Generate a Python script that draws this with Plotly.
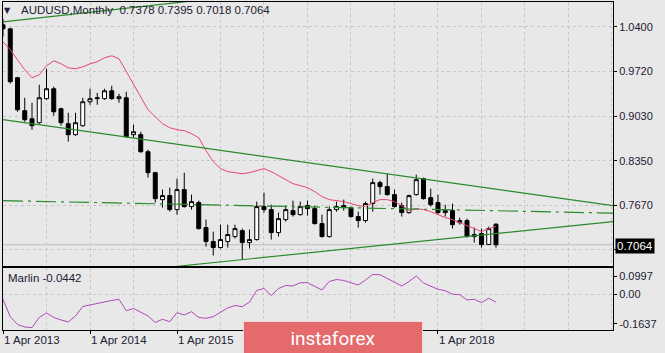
import plotly.graph_objects as go
import pandas as pd

# ---------------- data ----------------
months = pd.date_range("2013-04-01", periods=69, freq="MS")
x_idx = list(range(len(months)))

open_ = [1.0430, 1.0369, 0.9620, 0.9116, 0.8993, 0.8932, 0.9300, 0.9452, 0.9146, 0.8917,
         0.8749, 0.8886, 0.9253, 0.9300, 0.9300, 0.9421, 0.9300, 0.9314, 0.8749, 0.8749,
         0.8488, 0.8167, 0.7755, 0.7816, 0.7602, 0.7908, 0.7648, 0.7709, 0.7327, 0.7113,
         0.7021, 0.7113, 0.7189, 0.7280, 0.7097, 0.7143, 0.7648, 0.7602, 0.7250, 0.7449,
         0.7587, 0.7525, 0.7663, 0.7617, 0.7388, 0.7189, 0.7602, 0.7663, 0.7633, 0.7495,
         0.7434, 0.7694, 0.8015, 0.7954, 0.7831, 0.7663, 0.7556, 0.7831, 0.8076, 0.7785,
         0.7709, 0.7556, 0.7587, 0.7403, 0.7434, 0.7189, 0.7235, 0.7067, 0.7378]
high = [1.0520, 1.0385, 0.9635, 0.9314, 0.9238, 0.9513, 0.9758, 0.9483, 0.9162, 0.9085,
        0.9085, 0.9314, 0.9452, 0.9390, 0.9452, 0.9498, 0.9376, 0.9406, 0.8900, 0.8794,
        0.8519, 0.8180, 0.7908, 0.7938, 0.8076, 0.8167, 0.7831, 0.7740, 0.7449, 0.7265,
        0.7372, 0.7372, 0.7372, 0.7311, 0.7296, 0.7724, 0.7862, 0.7678, 0.7556, 0.7663,
        0.7740, 0.7724, 0.7740, 0.7663, 0.7525, 0.7648, 0.7724, 0.7755, 0.7648, 0.7571,
        0.7724, 0.8076, 0.8045, 0.8152, 0.7908, 0.7709, 0.7831, 0.8137, 0.8091, 0.7923,
        0.7831, 0.7678, 0.7694, 0.7479, 0.7464, 0.7327, 0.7311, 0.7342, 0.7395]
low = [1.0250, 0.9530, 0.9100, 0.8947, 0.8825, 0.8917, 0.9284, 0.9039, 0.8886, 0.8642,
       0.8733, 0.8870, 0.9207, 0.9207, 0.9284, 0.9284, 0.9238, 0.8703, 0.8703, 0.8473,
       0.8091, 0.7709, 0.7633, 0.7571, 0.7525, 0.7633, 0.7602, 0.7296, 0.7036, 0.6899,
       0.7006, 0.7021, 0.7159, 0.6837, 0.7006, 0.7128, 0.7556, 0.7143, 0.7189, 0.7418,
       0.7495, 0.7510, 0.7510, 0.7372, 0.7174, 0.7174, 0.7571, 0.7587, 0.7479, 0.7327,
       0.7403, 0.7571, 0.7831, 0.7816, 0.7633, 0.7495, 0.7540, 0.7816, 0.7755, 0.7648,
       0.7525, 0.7495, 0.7311, 0.7372, 0.7174, 0.7097, 0.7021, 0.7060, 0.7018]
close = [1.0370, 0.9560, 0.9130, 0.8978, 0.8886, 0.9314, 0.9452, 0.9100, 0.8932, 0.8749,
         0.8932, 0.9253, 0.9300, 0.9314, 0.9421, 0.9300, 0.9330, 0.8718, 0.8794, 0.8488,
         0.8167, 0.7770, 0.7816, 0.7602, 0.7908, 0.7648, 0.7724, 0.7311, 0.7113, 0.7021,
         0.7143, 0.7220, 0.7311, 0.7097, 0.7143, 0.7648, 0.7602, 0.7250, 0.7464, 0.7602,
         0.7525, 0.7648, 0.7617, 0.7388, 0.7189, 0.7602, 0.7648, 0.7633, 0.7495, 0.7434,
         0.7694, 0.8015, 0.7954, 0.7831, 0.7648, 0.7556, 0.7816, 0.8060, 0.7770, 0.7678,
         0.7556, 0.7587, 0.7372, 0.7434, 0.7189, 0.7220, 0.7067, 0.7311, 0.7064]

ma_line = [1.0171, 1.0048, 0.9895, 0.9743, 0.9620, 0.9666, 0.9804, 0.9880, 0.9834, 0.9773,
           0.9758, 0.9788, 0.9834, 0.9865, 0.9926, 0.9957, 0.9911, 0.9712, 0.9528, 0.9314,
           0.9131, 0.9024, 0.8917, 0.8856, 0.8825, 0.8810, 0.8764, 0.8703, 0.8504, 0.8336,
           0.8229, 0.8183, 0.8168, 0.8152, 0.8168, 0.8198, 0.8229, 0.8183, 0.8122, 0.8061,
           0.7999, 0.7969, 0.7938, 0.7877, 0.7801, 0.7755, 0.7740, 0.7724, 0.7694, 0.7663,
           0.7648, 0.7709, 0.7755, 0.7755, 0.7724, 0.7663, 0.7587, 0.7617, 0.7602, 0.7571,
           0.7525, 0.7480, 0.7449, 0.7403, 0.7357, 0.7311, 0.7266, 0.7311, 0.7342]

marlin = [-0.0280, -0.1236, -0.1665, -0.1802, -0.1841, -0.1280, -0.1033, -0.1280, -0.1418, -0.1527,
          -0.1198, -0.0676, -0.0593, -0.0511, -0.0401, -0.0346, -0.0280, -0.0907, -0.0786, -0.0978,
          -0.1198, -0.1555, -0.1379, -0.1511, -0.1016, -0.1143, -0.0962, -0.1280, -0.1324, -0.1236,
          -0.0978, -0.0758, -0.0621, -0.0687, -0.0429, 0.0203, 0.0313, -0.0071, 0.0313, 0.0478,
          0.0451, 0.0632, 0.0632, 0.0423, 0.0231, 0.0698, 0.0808, 0.0753, 0.0643, 0.0505,
          0.0780, 0.1082, 0.1071, 0.0863, 0.0654, 0.0451, 0.0698, 0.1000, 0.0615, 0.0423,
          0.0269, 0.0192, 0.0000, -0.0027, -0.0319, -0.0280, -0.0467, -0.0225, -0.0442]

# trend lines: (month index, price) anchor points
upper_channel_x, upper_channel_y = [0, 30], [1.0476, 1.0844]
down_trend_x, down_trend_y = [0, 84.14], [0.8978, 0.7663]
mid_level_x, mid_level_y = [0, 84.14], [0.7739, 0.7548]
up_trend_x, up_trend_y = [20, 84.14], [0.6688, 0.7418]

price_ticks = [0.6990, 0.7670, 0.8350, 0.9030, 0.9720, 1.0400]
marlin_ticks = [-0.1637, 0.0, 0.0997]
marlin_tick_text = ["-0.1637", "0.00", "0.0997"]
date_tick_idx = [0, 12, 24, 36, 48, 60]
date_tick_text = ["1 Apr 2013", "1 Apr 2014", "1 Apr 2015", "1 Apr 2016", "1 Apr 2017", "1 Apr 2018"]
# labels 2016 / 2017 sit under the watermark in the reference
date_label_visible = [True, True, True, False, False, True]

# ---------------- styles ----------------
BG = "#e8e8e8"
GRID = "#c6c6c6"
TXT = "#202032"
FONT = "Liberation Sans, Arial, sans-serif"
XR = [0, 84.14]

fig = go.Figure()

fig.add_trace(go.Candlestick(
    x=x_idx, open=open_, high=high, low=low, close=close,
    increasing=dict(line=dict(color="#000000", width=1), fillcolor="#ffffff"),
    decreasing=dict(line=dict(color="#000000", width=1), fillcolor="#000000"),
    xaxis="x", yaxis="y", hoverinfo="skip"))

fig.add_trace(go.Scatter(x=x_idx, y=ma_line, mode="lines",
                         line=dict(color="#e8466e", width=1), xaxis="x", yaxis="y", hoverinfo="skip"))

for tx, ty, dash in [(upper_channel_x, upper_channel_y, "solid"),
                     (down_trend_x, down_trend_y, "solid"),
                     (up_trend_x, up_trend_y, "solid"),
                     (mid_level_x, mid_level_y, "20px,5px,3px,5px")]:
    fig.add_trace(go.Scatter(x=tx, y=ty, mode="lines",
                             line=dict(color="#2a8a2a", width=1.2, dash=dash),
                             xaxis="x", yaxis="y", hoverinfo="skip"))

fig.add_trace(go.Scatter(x=x_idx, y=marlin, mode="lines",
                         line=dict(color="#b048b8", width=1), xaxis="x2", yaxis="y2", hoverinfo="skip"))

# ask line
fig.add_shape(type="line", xref="x domain", x0=0, x1=1, yref="y", y0=close[-1], y1=close[-1],
              line=dict(color="#bdbdbd", width=1), layer="below")

axis_common = dict(showline=True, mirror=True, linecolor="#000000", linewidth=1,
                   zeroline=False, tickfont=dict(family=FONT, size=11, color=TXT))

grid6 = [i for i in range(0, 85, 6)]
fig.update_layout(
    width=665, height=353, margin=dict(l=3, r=52, t=2, b=23),
    paper_bgcolor=BG, plot_bgcolor=BG, showlegend=False, hovermode=False,
    boxgap=0.45, boxgroupgap=0,
    xaxis=dict(domain=[0, 1], range=XR, anchor="y", showticklabels=False, ticks="",
               tickmode="array", tickvals=grid6, showgrid=True, gridcolor=GRID, griddash="3px,3px",
               rangeslider=dict(visible=False), **axis_common),
    yaxis=dict(domain=[0.1936, 1], range=[0.6731, 1.078], side="right", anchor="x",
               tickmode="array", tickvals=price_ticks, ticktext=[f"{v:.4f}" for v in price_ticks],
               ticks="outside", ticklen=3, tickcolor="#000000",
               showgrid=True, gridcolor=GRID, griddash="3px,3px", **axis_common),
    xaxis2=dict(domain=[0, 1], range=XR, anchor="y2", showticklabels=False,
                tickmode="array", tickvals=date_tick_idx, ticks="outside", ticklen=3, tickcolor="#000000",
                showgrid=False,
                minor=dict(tickmode="array", tickvals=grid6, showgrid=True, gridcolor=GRID,
                           griddash="3px,3px", ticks=""),
                **axis_common),
    yaxis2=dict(domain=[0, 0.189], range=[-0.197, 0.144], side="right", anchor="x2",
                tickmode="array", tickvals=marlin_ticks, ticktext=marlin_tick_text,
                ticks="outside", ticklen=3, tickcolor="#000000", showgrid=False,
                minor=dict(tickmode="array", tickvals=[0.0], showgrid=True, gridcolor=GRID,
                           griddash="3px,3px", ticks=""),
                **axis_common),
)

annotations = []
# title
annotations.append(dict(xref="paper", yref="paper", x=(7 - 3) / 610, y=(330 - 10) / 328,
                        text="\u25BC", showarrow=False, xanchor="center", yanchor="middle",
                        font=dict(family="DejaVu Sans", size=8, color=TXT)))
title_txt = (f"AUDUSD,Monthly\u00a0\u00a0{open_[-1]:.4f} {high[-1]:.4f} "
             f"{low[-1]:.4f} {close[-1]:.4f}")
annotations.append(dict(xref="paper", yref="paper", x=(19 - 3) / 610, y=(330 - 10) / 328,
                        text=title_txt, showarrow=False, xanchor="left", yanchor="middle",
                        font=dict(family=FONT, size=11.5, color=TXT)))
# marlin label
annotations.append(dict(xref="paper", yref="paper", x=(6 - 3) / 610, y=(330 - 278) / 328,
                        text=f"Marlin {marlin[-1]:.4f}", showarrow=False, xanchor="left",
                        yanchor="middle", font=dict(family=FONT, size=11.5, color=TXT)))
# current price box
annotations.append(dict(xref="paper", yref="y", x=1, y=close[-1], xanchor="left", yanchor="middle",
                        xshift=2, yshift=-1, text=f"{close[-1]:.4f}", showarrow=False,
                        bgcolor="#000000", borderpad=1,
                        font=dict(family=FONT, size=11.5, color="#ffffff")))
# date labels
for xi, t, vis in zip(date_tick_idx, date_tick_text, date_label_visible):
    if not vis:
        continue
    annotations.append(dict(xref="x2", yref="paper", x=xi, y=0, xanchor="left", yanchor="top",
                            xshift=-1, yshift=-2, text=t, showarrow=False,
                            font=dict(family=FONT, size=11.5, color=TXT)))
# watermark
annotations.append(dict(xref="paper", yref="paper", x=(333 - 3) / 610, y=(330 - 338) / 328,
                        xanchor="center", yanchor="middle", text="instaforex", showarrow=False,
                        width=178, height=32, bgcolor="#e46a6c", bordercolor="#f4d4d4",
                        borderwidth=1, borderpad=0,
                        font=dict(family="Roboto", size=19, color="#ffffff")))
fig.update_layout(annotations=annotations)

fig.write_html("out.html")
